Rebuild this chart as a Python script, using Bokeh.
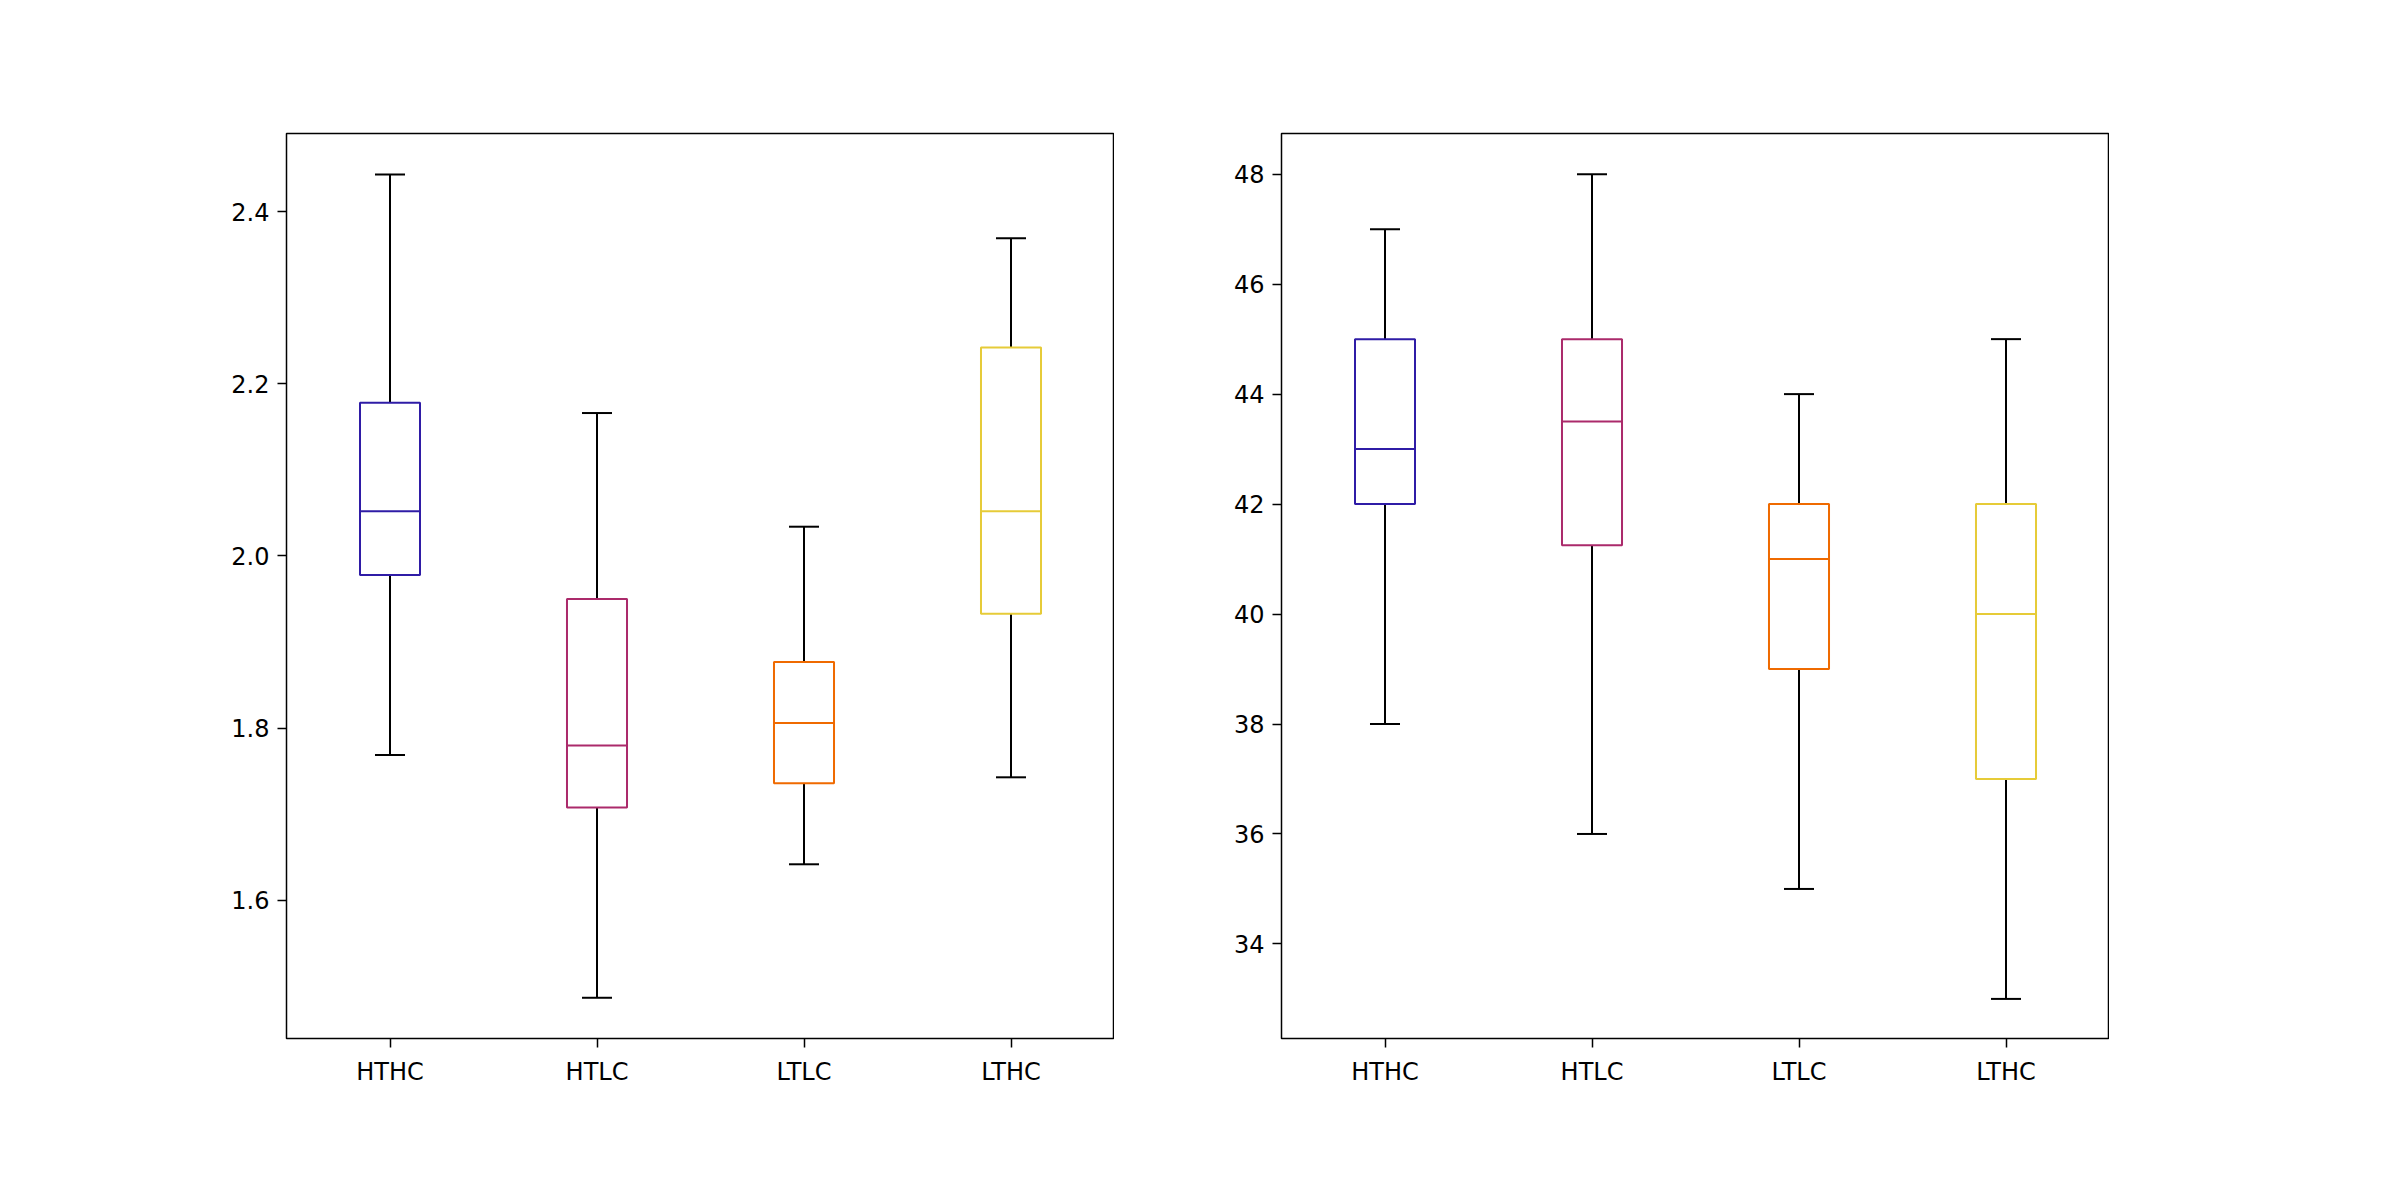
from bokeh.plotting import figure
from bokeh.layouts import row
from bokeh.models import ColumnDataSource
from bokeh.embed import file_html
from bokeh.resources import INLINE

groups = ["HTHC", "HTLC", "LTLC", "LTHC"]
colors = ["#2f1ca6", "#ab2a6b", "#ef6a00", "#e6cb38"]

# whisker low, q1, median, q3, whisker high
left_low = [1.769, 1.487, 1.642, 1.743]
left_q1 = [1.978, 1.708, 1.736, 1.933]
left_med = [2.052, 1.780, 1.806, 2.052]
left_q3 = [2.178, 1.950, 1.877, 2.242]
left_high = [2.443, 2.166, 2.034, 2.369]

right_low = [38, 36, 35, 33]
right_q1 = [42, 41.25, 39, 37]
right_med = [43, 43.5, 41, 40]
right_q3 = [45, 45, 42, 42]
right_high = [47, 48, 44, 45]

BOX_W = 0.29
CAP_W = 0.145


def box_panel(low, q1, med, q3, high, y_range, ticks, fmt, border_left):
    p = figure(x_range=(0.5, 4.5), y_range=y_range, frame_width=828, frame_height=905,
               min_border_left=border_left, min_border_right=0,
               min_border_top=133, min_border_bottom=140,
               output_backend="svg", toolbar_location=None)
    xs = list(range(1, len(groups) + 1))
    src = ColumnDataSource(dict(
        x=xs, c=colors, low=low, q1=q1, med=med, q3=q3, high=high,
        bl=[x - BOX_W / 2 for x in xs], br=[x + BOX_W / 2 for x in xs],
        cl=[x - CAP_W / 2 for x in xs], cr=[x + CAP_W / 2 for x in xs]))
    p.segment("x", "q3", "x", "high", source=src, line_color="black", line_width=2)
    p.segment("x", "low", "x", "q1", source=src, line_color="black", line_width=2)
    p.segment("cl", "high", "cr", "high", source=src, line_color="black", line_width=2)
    p.segment("cl", "low", "cr", "low", source=src, line_color="black", line_width=2)
    p.vbar(x="x", bottom="q1", top="q3", width=BOX_W, source=src, fill_color=None,
           line_color="c", line_width=2)
    p.segment("bl", "med", "br", "med", source=src, line_color="c", line_width=2)
    p.xgrid.visible = False
    p.ygrid.visible = False
    p.outline_line_color = "black"
    p.outline_line_width = 1.5
    p.xaxis.ticker = xs
    p.xaxis.major_label_overrides = {x: g for x, g in zip(xs, groups)}
    p.yaxis.ticker = ticks
    p.yaxis.major_label_overrides = {t: fmt.format(t) for t in ticks}
    for ax in (p.xaxis[0], p.yaxis[0]):
        ax.axis_line_color = None
        ax.major_label_text_font = "DejaVu Sans"
        ax.major_label_text_font_size = "24px"
        ax.major_label_text_color = "black"
        ax.major_tick_out = 9
        ax.major_tick_in = 0
        ax.major_tick_line_width = 1.5
        ax.minor_tick_out = 0
        ax.minor_tick_in = 0
    p.xaxis.major_label_standoff = 10
    p.yaxis.major_label_standoff = 8
    return p


p1 = box_panel(left_low, left_q1, left_med, left_q3, left_high, (1.4397, 2.4906),
               [1.6, 1.8, 2.0, 2.2, 2.4], "{:.1f}", 286)
p2 = box_panel(right_low, right_q1, right_med, right_q3, right_high, (32.28, 48.74),
               [34, 36, 38, 40, 42, 44, 46, 48], "{:.0f}", 167)

p = row(p1, p2)
open("out.html", "w").write(file_html(p, INLINE))
